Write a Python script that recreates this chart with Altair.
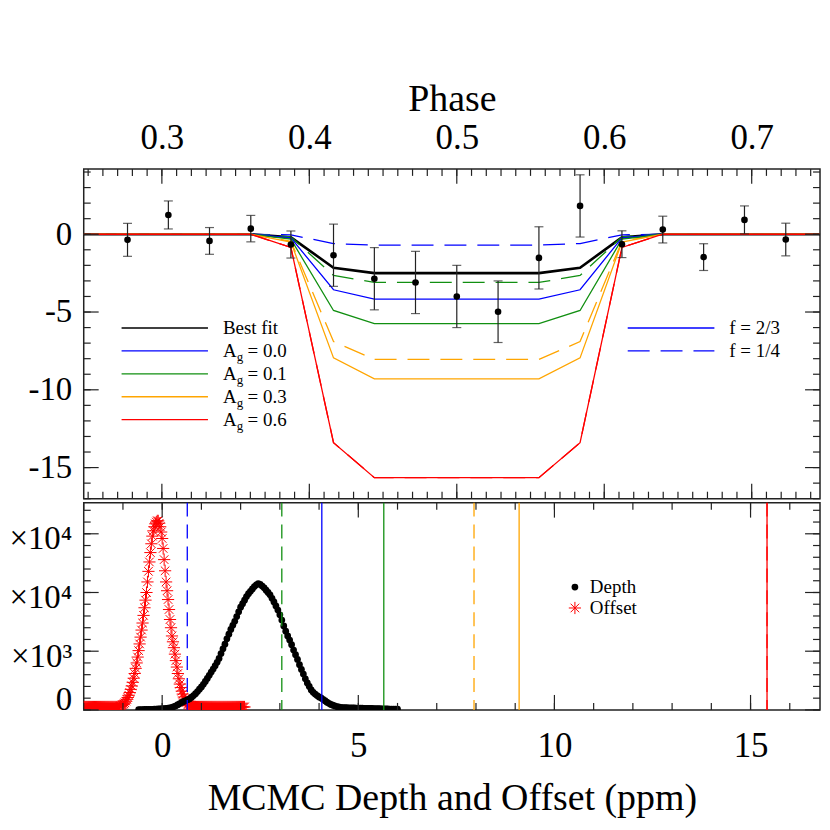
import altair as alt
import pandas as pd

# ---------------- data: top panel (binned light curve) ----------------
phase = [0.2767, 0.3044, 0.3323, 0.3603, 0.3875, 0.4164, 0.4441, 0.4720, 0.5000,
         0.5280, 0.5557, 0.5836, 0.6120, 0.6397, 0.6674, 0.6951, 0.7231]
flux = [-0.36, 1.24, -0.43, 0.36, -0.66, -1.35, -2.86, -3.10, -4.00,
        -4.98, -1.52, 1.82, -0.64, 0.30, -1.47, 0.92, -0.34]
flux_err = [1.06, 0.90, 0.86, 0.85, 0.87, 2.00, 2.00, 2.00, 2.00,
            1.98, 2.00, 2.00, 0.86, 0.86, 0.86, 0.90, 1.05]

# model curves (eclipse models), sampled at these phases
model_phase = [0.247, 0.3603, 0.3875, 0.4164, 0.4441, 0.5557, 0.5836, 0.6120, 0.6397, 0.7525]
best_fit = [0, 0, -0.20, -2.15, -2.50, -2.50, -2.15, -0.20, 0, 0]
ag00_f23 = [0, 0, -0.23, -3.57, -4.17, -4.17, -3.57, -0.23, 0, 0]
ag00_f14 = [0, 0, -0.04, -0.60, -0.70, -0.70, -0.60, -0.04, 0, 0]
ag01_f23 = [0, 0, -0.32, -4.90, -5.75, -5.75, -4.90, -0.32, 0, 0]
ag01_f14 = [0, 0, -0.17, -2.65, -3.10, -3.10, -2.65, -0.17, 0, 0]
ag03_f23 = [0, 0, -0.50, -7.95, -9.30, -9.30, -7.95, -0.50, 0, 0]
ag03_f14 = [0, 0, -0.45, -6.90, -8.05, -8.05, -6.90, -0.45, 0, 0]
ag06_f23 = [0, 0, -0.85, -13.40, -15.65, -15.65, -13.40, -0.85, 0, 0]
ag06_f14 = [0, 0, -0.85, -13.40, -15.65, -15.65, -13.40, -0.85, 0, 0]

# ---------------- data: bottom panel (MCMC histograms) ----------------
depth_bin_start = -0.60
depth_bin_width = 0.05
depth_counts = [20, 25, 30, 35, 40, 45, 50, 55, 60, 70, 80, 90, 100,
                115, 130, 150, 180, 220, 280, 350, 440, 540, 640,
                720, 800, 870, 950, 1080, 1220, 1380, 1560, 1760, 1960,
                2180, 2420, 2680, 2950, 3220, 3480, 3760, 4050, 4380, 4800,
                5200, 5600, 6050, 6450, 6850, 7200, 7550, 7950, 8350, 8750,
                9050, 9350, 9650, 9900, 10100, 10300, 10500, 10650, 10750, 10700,
                10550, 10400, 10200, 10000, 9800, 9500, 9200, 8850, 8500, 8100,
                7650, 7150, 6700, 6300, 5950, 5550, 5100, 4700, 4300, 3850,
                3450, 3050, 2650, 2300, 2000, 1700, 1500, 1350, 1220, 1110,
                1020, 900, 780, 660, 560, 470, 400, 340, 290, 250, 220,
                200, 195, 190, 180, 175, 170, 165, 160, 155, 150, 145, 140, 135, 130,
                125, 120, 115, 110, 105, 100, 95, 90, 85, 80, 75, 72, 68, 65, 60]

offset_bin_start = -2.000
offset_bin_width = 0.025
offset_counts = [
    # -2.000 .. -1.125
    250, 250, 250, 250, 250, 250, 250, 250, 250, 250, 250, 250,
    250, 250, 250, 250, 250, 250, 250, 250, 250, 250, 250, 250,
    250, 250, 250, 250, 250, 250, 250, 250, 250, 250, 250, 250,
    # -1.100 .. 0.750
    300, 320, 350, 400, 450, 520, 600, 740, 900, 1060, 1250, 1480,
    1750, 2040, 2350, 2700, 3100, 3540, 4000, 4500, 5050, 5620, 6200, 6800,
    7400, 8050, 8700, 9350, 10000, 10900, 11800, 12600, 13400, 14150, 14800, 15250,
    15600, 15850, 16000, 16100, 16100, 15900, 15600, 15150, 14600, 13750, 12800, 11850,
    10900, 10150, 9400, 8550, 7700, 7000, 6300, 5800, 5300, 4750, 4200, 3650,
    3100, 2650, 2200, 1900, 1600, 1350, 1100, 920, 750, 620, 500, 440,
    380, 340, 300,
    # 0.775 .. 2.100
    280, 270, 265, 260, 250, 250, 250, 250, 250, 250, 250, 250,
    250, 250, 250, 250, 250, 250, 250, 250, 250, 250, 250, 250,
    250, 250, 250, 250, 250, 250, 250, 250, 250, 250, 250, 250,
    250, 250, 250, 250, 250, 250, 250, 250, 250, 250, 250, 250,
    250, 250, 250, 250, 250, 250]

# predicted depths marked in the bottom panel
vline_solid_ppm = [4.07, 5.65, 9.10, 15.42]
vline_dashed_ppm = [0.64, 3.05, 7.95, 15.42]

BLUE, GREEN, ORANGE, RED = "#0000ff", "#118f11", "#ffa500", "#ff0000"
vline_colors = [BLUE, GREEN, ORANGE, RED]

# ---------------- styling ----------------
FONT = "Liberation Serif"
AX = "#222222"
W, H1, H2 = 739, 331, 208
TL, TS = 15, 7

phase_scale = alt.Scale(domain=[0.247, 0.247 + W / 1480], nice=False, zero=False)
flux_scale = alt.Scale(domain=[-17, 4.2], nice=False, zero=False)
ppm_scale = alt.Scale(domain=[-2, -2 + W / 39.37], nice=False, zero=False)
cnt_scale = alt.Scale(domain=[0, 17650], nice=False, zero=False)

AX_PHASE = alt.Axis(orient="top", values=[0.3, 0.4, 0.5, 0.6, 0.7], format=".1f",
                    title="Phase", labelPadding=13, titlePadding=3, labelFontSize=35)
AX_FLUX = alt.Axis(orient="left", values=[0, -5, -10, -15], title=None, labelPadding=12,
                   labelExpr="datum.value < 0 ? '-' + format(-datum.value, 'd') : format(datum.value, 'd')")
AX_PPM = alt.Axis(orient="bottom", values=[0, 5, 10, 15], format="d", labelFontSize=35,
                  title="MCMC Depth and Offset (ppm)", labelPadding=19, titlePadding=16)
AX_CNT = alt.Axis(orient="left", values=[0, 5000, 10000, 15000], title=None, labelPadding=12,
                  labelOffset={"condition": {"test": "datum.value == 0", "value": -10}, "value": 5},
                  labelExpr="datum.value == 0 ? '0' : (datum.value < 10000 ? '×10³' : '×10⁴')")

XP = lambda t="phase": alt.X(f"{t}:Q", scale=phase_scale, axis=AX_PHASE)
YF = lambda t="flux": alt.Y(f"{t}:Q", scale=flux_scale, axis=AX_FLUX)
XM = lambda t="ppm": alt.X(f"{t}:Q", scale=ppm_scale, axis=AX_PPM)
YC = lambda t="n": alt.Y(f"{t}:Q", scale=cnt_scale, axis=AX_CNT)

# ---------------- tables ----------------
pts = pd.DataFrame({"phase": phase, "flux": flux, "err": flux_err})
err_df = pd.DataFrame({"phase": phase,
                       "flux": [f - e for f, e in zip(flux, flux_err)],
                       "hi": [f + e for f, e in zip(flux, flux_err)]})
cap_df = pd.DataFrame({"phase": phase + phase,
                       "flux": [f - e for f, e in zip(flux, flux_err)] + [f + e for f, e in zip(flux, flux_err)]})

models = [
    ("ag00_f14", ag00_f14, BLUE, True),
    ("ag01_f14", ag01_f14, GREEN, True),
    ("ag03_f14", ag03_f14, ORANGE, True),
    ("ag06_f14", ag06_f14, RED, True),
    ("ag00_f23", ag00_f23, BLUE, False),
    ("ag01_f23", ag01_f23, GREEN, False),
    ("ag03_f23", ag03_f23, ORANGE, False),
    ("ag06_f23", ag06_f23, RED, False),
]
rows = []
for name, vals, col, dashed in models:
    for p, v in zip(model_phase, vals):
        rows.append({"phase": p, "flux": v, "name": name, "col": col, "dashed": dashed})
mdf = pd.DataFrame(rows)
best_df = pd.DataFrame({"phase": model_phase, "flux": best_fit})

depth_df = pd.DataFrame({
    "ppm": [depth_bin_start + i * depth_bin_width for i in range(len(depth_counts))],
    "n": depth_counts})
offset_df = pd.DataFrame({
    "ppm": [offset_bin_start + i * offset_bin_width for i in range(len(offset_counts))],
    "n": offset_counts})
vs_df = pd.DataFrame({"ppm": vline_solid_ppm, "col": vline_colors})
vd_df = pd.DataFrame({"ppm": vline_dashed_ppm, "col": vline_colors})

ONE = pd.DataFrame({"a": [0]})


def frange(a, b, step):
    out, v = [], a
    while v <= b + 1e-9:
        out.append(round(v, 6))
        v += step
    return out


def yticks(vals, Yenc, field, length):
    df = pd.DataFrame({field: vals})
    b = alt.Chart(df)
    l = b.mark_rule(color=AX, strokeWidth=1.2).encode(y=Yenc(field), x=alt.value(0), x2=alt.value(length))
    r = b.mark_rule(color=AX, strokeWidth=1.2).encode(y=Yenc(field), x=alt.value(W - length), x2=alt.value(W))
    return [l, r]


def xticks(vals, Xenc, field, length, h):
    df = pd.DataFrame({field: vals})
    b = alt.Chart(df)
    t = b.mark_rule(color=AX, strokeWidth=1.2).encode(x=Xenc(field), y=alt.value(0), y2=alt.value(length))
    bt = b.mark_rule(color=AX, strokeWidth=1.2).encode(x=Xenc(field), y=alt.value(h - length), y2=alt.value(h))
    return [t, bt]


def txt(s, x, y, size=19, color="black"):
    return alt.Chart(ONE).mark_text(text=s, align="left", baseline="middle", font=FONT,
                                    fontSize=size, color=color).encode(
        x=alt.value(x), y=alt.value(y))


def legline(x1, x2, y, color, dash=None, width=1.3):
    kw = dict(color=color, strokeWidth=width)
    if dash:
        kw["strokeDash"] = dash
    return alt.Chart(ONE).mark_rule(**kw).encode(x=alt.value(x1), x2=alt.value(x2), y=alt.value(y))


# ---------------- top panel ----------------
best_line = alt.Chart(best_df).mark_line(color="black", strokeWidth=2.6, clip=True).encode(x=XP(), y=YF())
dashed_lines = alt.Chart(mdf[mdf.dashed]).mark_line(strokeWidth=1.3, strokeDash=[22, 11], clip=True).encode(
    x=XP(), y=YF(), color=alt.Color("col:N", scale=None), detail="name:N")
solid_lines = alt.Chart(mdf[~mdf.dashed]).mark_line(strokeWidth=1.3, clip=True).encode(
    x=XP(), y=YF(), color=alt.Color("col:N", scale=None), detail="name:N")
err_rules = alt.Chart(err_df).mark_rule(color=AX, strokeWidth=1.2).encode(x=XP(), y=YF(), y2="hi:Q")
caps = alt.Chart(cap_df).mark_tick(color=AX, orient="horizontal", size=9, thickness=1.2).encode(x=XP(), y=YF())
points = alt.Chart(pts).mark_circle(size=44, color="black", opacity=1).encode(x=XP(), y=YF())

top_layers = [best_line, dashed_lines, solid_lines, err_rules, caps, points]
top_layers += yticks([-15, -10, -5, 0], YF, "flux", TL)
top_layers += yticks(list(range(-17, 5)), YF, "flux", TS)
top_layers += xticks([0.3, 0.4, 0.5, 0.6, 0.7], XP, "phase", TL, H1)
top_layers += xticks(frange(0.25, 0.74, 0.01), XP, "phase", TS, H1)

# top legends
leg_y = [159.7, 182.7, 205.7, 228.7, 251.7]
leg_cols = ["black", BLUE, GREEN, ORANGE, RED]
leg_ag = ["0.0", "0.1", "0.3", "0.6"]
for i, (y, c) in enumerate(zip(leg_y, leg_cols)):
    top_layers.append(legline(38, 124.7, y, c))
    if i == 0:
        top_layers.append(txt("Best fit", 139.7, y))
    else:
        top_layers.append(txt("A", 139.7, y))
        top_layers.append(txt("g", 153.6, y + 6, size=13))
        top_layers.append(txt("= " + leg_ag[i - 1], 164.5, y))
top_layers.append(legline(546, 633, 159.7, BLUE))
top_layers.append(legline(546, 633, 182.7, BLUE, dash=[22, 11]))
top_layers.append(txt("f = 2/3", 648, 159.7))
top_layers.append(txt("f = 1/4", 648, 182.7))

top = alt.layer(*top_layers).properties(width=W, height=H1)

# ---------------- bottom panel ----------------
ASTER = "M -1 0 L 1 0 M 0 -1 L 0 1 M -0.7 -0.7 L 0.7 0.7 M -0.7 0.7 L 0.7 -0.7"

offset_pts = alt.Chart(offset_df).mark_point(shape=ASTER, size=150, filled=False, color=RED,
                                             strokeWidth=1, opacity=1, clip=True).encode(x=XM(), y=YC())
depth_pts = alt.Chart(depth_df).mark_circle(size=46, color="black", opacity=1, clip=True).encode(x=XM(), y=YC())
vsolid = alt.Chart(vs_df).mark_rule(strokeWidth=1.3).encode(x=XM(), color=alt.Color("col:N", scale=None))
vdash = alt.Chart(vd_df).mark_rule(strokeWidth=1.3, strokeDash=[14, 8]).encode(
    x=XM(), color=alt.Color("col:N", scale=None))

bot_layers = [offset_pts, depth_pts, vsolid, vdash]
bot_layers += yticks([0, 5000, 10000, 15000], YC, "n", TL)
bot_layers += yticks(frange(0, 17000, 1000), YC, "n", TS)
bot_layers += xticks([0, 5, 10, 15], XM, "ppm", TL, H2)
bot_layers += xticks(list(range(-2, 17)), XM, "ppm", TS, H2)

bot_layers.append(alt.Chart(ONE).mark_circle(size=46, color="black", opacity=1).encode(
    x=alt.value(493), y=alt.value(84.7)))
bot_layers.append(alt.Chart(ONE).mark_point(shape=ASTER, size=150, filled=False, color=RED,
                                            strokeWidth=1, opacity=1).encode(
    x=alt.value(493), y=alt.value(105.7)))
bot_layers.append(txt("Depth", 508, 84.7))
bot_layers.append(txt("Offset", 508, 105.7))

bottom = alt.layer(*bot_layers).properties(width=W, height=H2)

chart = alt.vconcat(top, bottom, spacing=0).resolve_scale(
    x="independent", y="independent"
).properties(
    padding={"left": 0, "top": 70, "right": 0, "bottom": 0},
    background="white",
).configure_view(
    stroke=AX, strokeWidth=1.5
).configure_axis(
    domain=False, ticks=False, grid=False, tickSize=0,
    labelFont=FONT, titleFont=FONT, labelFontSize=33, titleFontSize=38,
    titleFontWeight="normal", labelColor="black", titleColor="black"
)

chart.save("out.html", embed_options={"renderer": "svg", "actions": False})
